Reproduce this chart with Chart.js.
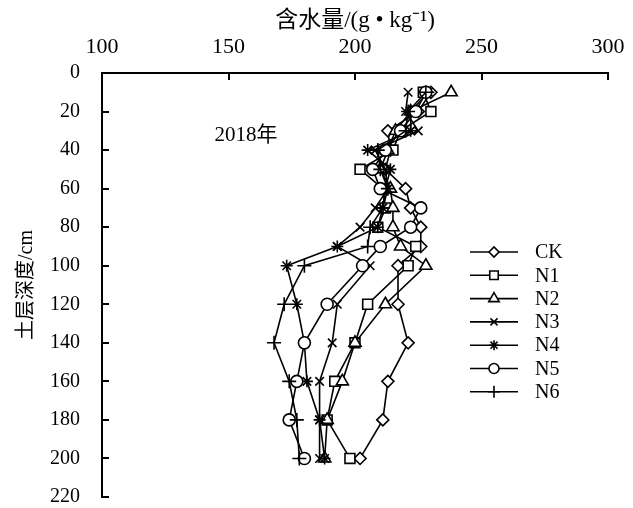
<!DOCTYPE html>
<html>
<head>
<meta charset="utf-8">
<script src="https://cdn.jsdelivr.net/npm/chart.js@4.4.0/dist/chart.umd.min.js"></script>
<style>
  html, body { margin: 0; padding: 0; background: #fff; }
</style>
</head>
<body>
<canvas id="myChart" width="633" height="508"></canvas>
<script>
// data: soil depth (cm) and water content (g/kg)
const depths = [10, 20, 30, 40, 50, 60, 70, 80, 90, 100, 120, 140, 160, 180, 200];
const seriesNames = ['CK', 'N1', 'N2', 'N3', 'N4', 'N5', 'N6'];
const ck = [230, 225, 213, 214, 212, 220, 222, 226, 226, 217, 217, 221, 213, 211, 202];
const n1 = [227, 230, 218, 215, 202, 211, 212, 209, 224, 221, 205, 200, 192, 189, 198];
const n2 = [238, 222, 216, 213, 210, 214, 215, 215, 218, 228, 212, 200, 195, 189, 188];
const n3 = [221, 220, 225, 208, 212, 213, 208, 202, 193, 206, 193, 191, 186, 186, 186];
const n4 = [229, 222, 222, 205, 214, 212, 211, 209, 193, 173, 177, 180, 181, 186, 188];
const n5 = [228, 224, 218, 212, 207, 210, 226, 222, 210, 203, 189, 180, 177, 174, 180];
const n6 = [228, 221, 220, 209, 210, 213, 211, 206, 205, 180, 172, 168, 174, 177, 178];
const xTicks = [100, 150, 200, 250, 300];
const yTicks = [0, 20, 40, 60, 80, 100, 120, 140, 160, 180, 200, 220];

const allValues = [ck, n1, n2, n3, n4, n5, n6];
const markers = ['rectRot', 'rect', 'triangle', 'crossRot', 'star', 'circle', 'cross'];
const radii = [6, 7, 7, 6, 6, 6, 7];

const serif = "'Liberation Serif', 'Times New Roman', 'Noto Sans CJK SC', serif";

const datasets = allValues.map((vals, i) => ({
    label: seriesNames[i],
    data: vals.map((v, k) => ({ x: v, y: depths[k] })),
    showLine: true,
    order: 10 - i,   // later series on top, like the original
    borderColor: '#000',
    borderWidth: 1.6,
    pointStyle: markers[i],
    pointRadius: radii[i],
    pointBorderWidth: 1.6,
    pointBorderColor: '#000',
    pointBackgroundColor: '#fff',
    tension: 0
}));

// inward tick marks, legend and year label
const extras = {
    id: 'extras',
    afterDraw(chart) {
        const { ctx, chartArea, scales: { x, y } } = chart;
        ctx.save();
        ctx.strokeStyle = '#000';
        ctx.lineWidth = 2;
        ctx.beginPath();
        xTicks.forEach(v => {
            const px = Math.round(x.getPixelForValue(v));
            ctx.moveTo(px, chartArea.top);
            ctx.lineTo(px, chartArea.top + 7);
        });
        yTicks.forEach(v => {
            const py = Math.round(y.getPixelForValue(v));
            ctx.moveTo(chartArea.left, py);
            ctx.lineTo(chartArea.left + 7, py);
        });
        ctx.stroke();

        // legend
        const lx = 470, ly = 252, gap = 23.3;
        ctx.font = '20px ' + serif;
        ctx.textBaseline = 'middle';
        ctx.textAlign = 'left';
        seriesNames.forEach((name, i) => {
            const yy = ly + i * gap;
            ctx.lineWidth = 1.6;
            ctx.strokeStyle = '#000';
            ctx.beginPath();
            ctx.moveTo(lx, yy);
            ctx.lineTo(lx + 48, yy);
            ctx.stroke();
            ctx.fillStyle = '#fff';
            Chart.helpers.drawPoint(ctx, {
                pointStyle: markers[i], radius: radii[i] - 1, rotation: 0, borderWidth: 1.6
            }, lx + 24, yy);
            ctx.fillStyle = '#000';
            ctx.fillText(name, 535, yy + 1);
        });

        ctx.font = '21px ' + serif;
        ctx.textAlign = 'center';
        ctx.fillText('2018年', 246, 135);
        ctx.restore();
    }
};

new Chart(document.getElementById('myChart').getContext('2d'), {
    type: 'scatter',
    data: { datasets: datasets },
    options: {
        responsive: false,
        animation: false,
        devicePixelRatio: 1,
        layout: { padding: { left: 0, top: 0, right: 25, bottom: 11 } },
        plugins: {
            legend: { display: false },
            tooltip: { enabled: false }
        },
        scales: {
            x: {
                type: 'linear',
                position: 'top',
                min: 100,
                max: 300,
                afterFit(scale) {
                    scale.height = 73;
                    scale.paddingLeft = 0;
                    scale.paddingRight = 0;
                },
                afterBuildTicks(scale) { scale.ticks = xTicks.map(v => ({ value: v })); },
                grid: { display: false, drawTicks: false },
                border: { display: true, color: '#000', width: 2 },
                ticks: { color: '#000', padding: 13, font: { family: serif, size: 22 } },
                title: {
                    display: true,
                    text: '含水量/(g • kg⁻¹)',
                    color: '#000',
                    padding: { top: 7 },
                    font: { family: serif, size: 23 }
                }
            },
            y: {
                type: 'linear',
                reverse: true,
                min: 0,
                max: 220,
                afterFit(scale) {
                    scale.width = 102;
                    scale.paddingTop = 0;
                    scale.paddingBottom = 0;
                },
                afterBuildTicks(scale) { scale.ticks = yTicks.map(v => ({ value: v })); },
                grid: { display: false, drawTicks: false },
                border: { display: true, color: '#000', width: 2 },
                ticks: { color: '#000', padding: 22, font: { family: serif, size: 20 } },
                title: {
                    display: true,
                    text: '土层深度/cm',
                    color: '#000',
                    padding: { top: 15 },
                    font: { family: serif, size: 20 }
                }
            }
        }
    },
    plugins: [extras]
});
</script>
</body>
</html>
